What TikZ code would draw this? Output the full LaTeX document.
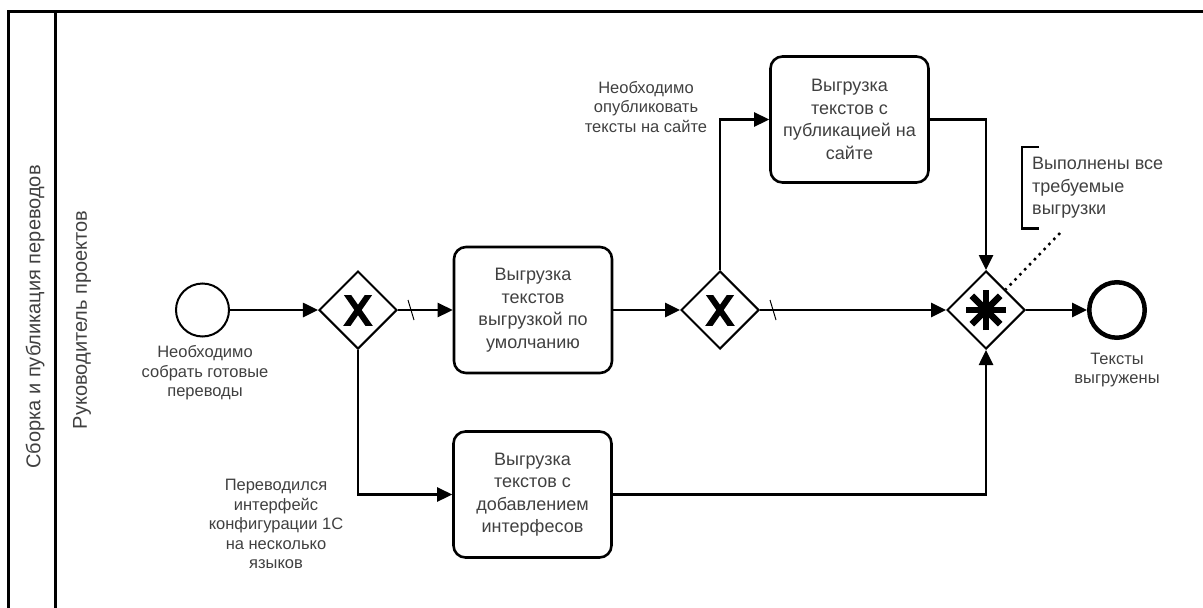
\documentclass[tikz,border=0pt]{standalone}
\usepackage{fontspec}
\setmainfont{Liberation Sans}
\usetikzlibrary{arrows.meta,shapes.geometric}

\begin{document}
\begin{tikzpicture}[x=1pt,y=-1pt,
    txt/.style={text=black!75, align=center, inner sep=0pt},
    task/.style={txt, draw=black, line width=2.6pt, rounded corners=12pt,
      minimum width=158pt, minimum height=126pt, font=\fontsize{18}{22.5}\selectfont},
    gateway/.style={diamond, draw, line width=2pt, minimum size=78pt, inner sep=0pt},
    xgate/.style={gateway, path picture={
        \begin{scope}
          \clip (path picture bounding box.center) +(-20,-15) rectangle +(20,15);
          \draw[line width=6pt] (path picture bounding box.center)
            +(-14,-20) -- +(14,20) +(-14,20) -- +(14,-20);
        \end{scope}}},
    complexgate/.style={gateway, path picture={
        \foreach \a in {0,45,90,135}
          \draw[line width=6.5pt] (path picture bounding box.center) +(\a:20) -- +(\a+180:20);}},
    event/.style={circle, draw, line width=2pt, minimum size=53pt, inner sep=0pt},
    endevent/.style={event, line width=4.5pt, minimum size=55.5pt},
    flow/.style={line width=2.6pt, -{Triangle[length=15pt,width=14pt]}},
    lbl/.style={txt, font=\fontsize{16.5}{19.5}\selectfont},
    lanetxt/.style={txt, rotate=90, font=\fontsize{20}{24}\selectfont},
    note/.style={txt, align=left, anchor=north west, minimum height=81pt,
      inner xsep=10pt, font=\fontsize{18}{22.5}\selectfont},
    bracket/.style={line width=2.5pt},
    assoc/.style={line width=2.5pt, dash pattern=on 2.5pt off 4.5pt}]
  \useasboundingbox (0,0) rectangle (1203,608);
  \clip (0,0) rectangle (1203,608);

  \draw[line width=3pt] (8,11) rectangle (1240,650);
  \draw[line width=3pt] (55,11) -- (55,650);
  \node[lanetxt] (poollbl) at (35,317) {Сборка и публикация переводов};
  \node[lanetxt] (lanelbl) at (82,320) {Руководитель проектов};

  \node[event] (start) at (202.5,310) {};
  \node[xgate] (gw1) at (358,310) {};
  \node[task] (t1) at (533,310) {Выгрузка\\текстов\\выгрузкой по\\умолчанию};
  \node[xgate] (gw2) at (720,310) {};
  \node[task] (t2) at (849.5,119.5) {Выгрузка\\текстов с\\публикацией на\\сайте};
  \node[task] (t3) at (532.5,494.5) {Выгрузка\\текстов с\\добавлением\\интерфесов};
  \node[complexgate] (gw3) at (986,310) {};
  \node[endevent] (stop) at (1117,310) {};

  \node[lbl] (startlbl) at (205,373) {Необходимо\\собрать готовые\\переводы};
  \node[lbl] (gw1lbl) at (276,524) {Переводился\\интерфейс\\конфигурации 1С\\на несколько\\языков};
  \node[lbl] (gw2lbl) at (646,107) {Необходимо\\опубликовать\\тексты на сайте};
  \node[lbl] (stoplbl) at (1117,370) {Тексты\\выгружены};

  \draw[flow] (start) -- (gw1);
  \draw[flow] (gw1) -- (t1);
  \draw[flow] (t1) -- (gw2);
  \draw[flow] (gw2) -- (gw3);
  \draw[flow] (gw3) -- (stop);
  \draw[flow] (gw1.south) |- (t3);
  \draw[flow] (t3) -| (gw3.south);
  \draw[flow] (gw2.north) |- (t2);
  \draw[flow] (t2) -| (gw3.north);

  % default flow marks
  \draw[line width=1pt] ([shift={(10,-10)}]gw1.east) -- ([shift={(16,10)}]gw1.east);
  \draw[line width=1pt] ([shift={(10,-10)}]gw2.east) -- ([shift={(16,10)}]gw2.east);

  \node[note] (notebox) at (1022,147) {Выполнены все\\требуемые\\выгрузки};
  \draw[bracket] ([xshift=17pt]notebox.north west) -- (notebox.north west)
    -- (notebox.south west) -- ([xshift=17pt]notebox.south west);
  \coordinate (noteend) at (1060,233);
  \draw[assoc] (noteend) -- (gw3);
\end{tikzpicture}
\end{document}
